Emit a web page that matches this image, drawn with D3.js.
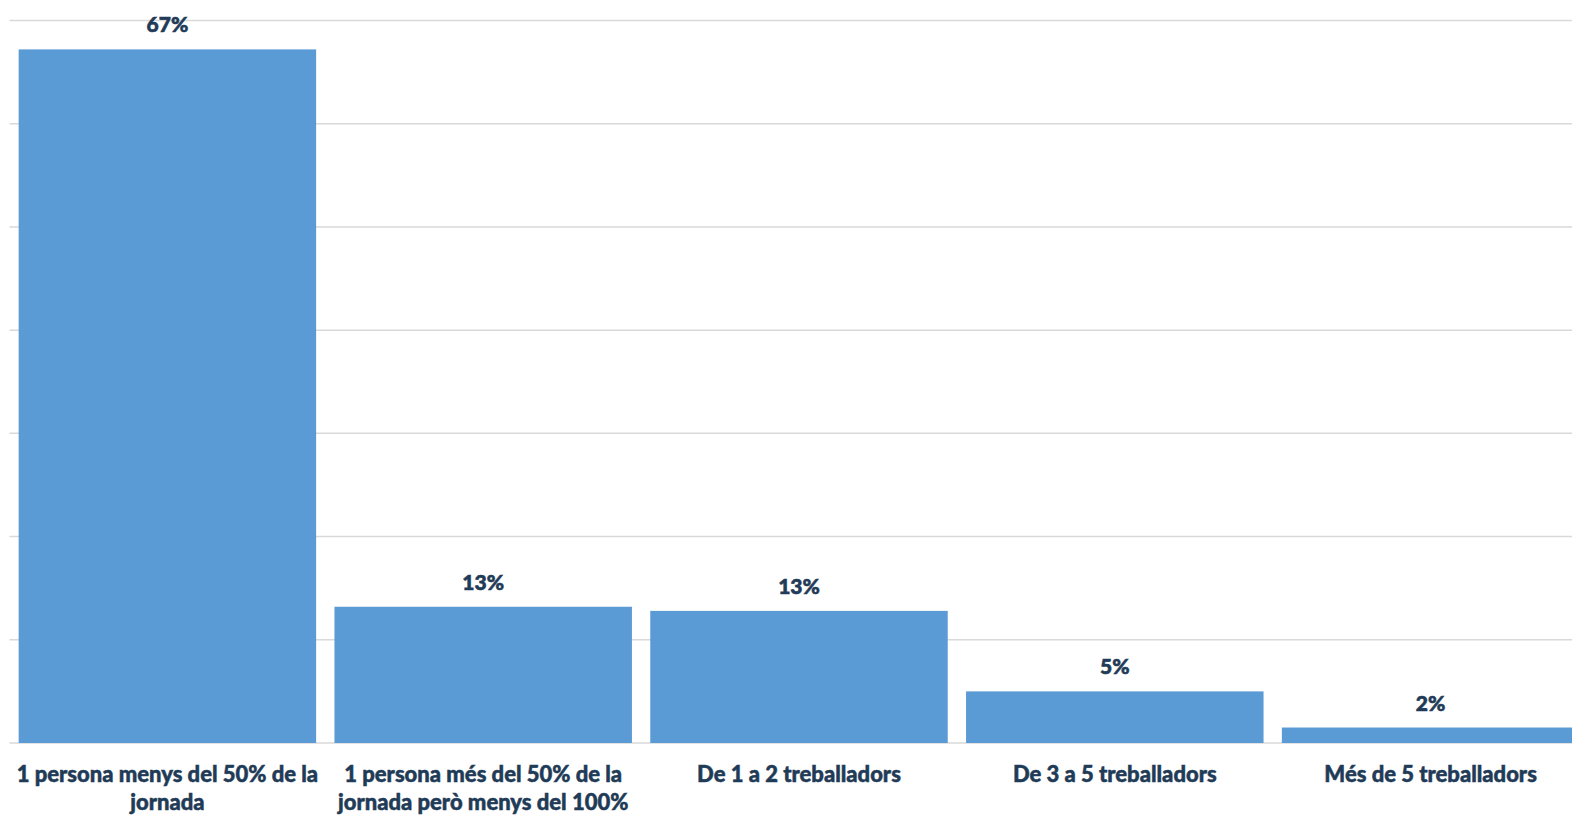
<!DOCTYPE html>
<html>
<head>
<meta charset="utf-8">
<script src="https://cdn.jsdelivr.net/npm/d3@7"></script>
<style>
  html, body { margin: 0; padding: 0; background: #fff; overflow: hidden; }
  svg { display: block; }
</style>
</head>
<body>
<svg id="chart" width="1572" height="815"></svg>
<script>
const categories = [
  "1 persona menys del 50% de la\njornada",
  "1 persona més del 50% de la\njornada però menys del 100%",
  "De 1 a 2 treballadors",
  "De 3 a 5 treballadors",
  "Més de 5 treballadors"
];
const values = [67.2, 13.2, 12.8, 5.0, 1.5];
const valueLabels = ["67%", "13%", "13%", "5%", "2%"];
const gridTicks = [0, 10, 20, 30, 40, 50, 60, 70];

const svg = d3.select("#chart");
const x0 = 9.5, stepW = 315.8;
const x = d3.scaleBand()
  .domain(d3.range(categories.length))
  .range([x0, x0 + stepW * categories.length])
  .paddingInner(0.058)
  .paddingOuter(0.029);
const y = d3.scaleLinear().domain([0, 70]).range([743, 20.5]);

const textColor = "#1f3b57";
const font = "Lato, 'Open Sans', sans-serif";

// gridlines
svg.append("g").selectAll("line").data(gridTicks).join("line")
  .attr("x1", x0).attr("x2", 1572)
  .attr("y1", d => y(d)).attr("y2", d => y(d))
  .attr("stroke", "#d9d9d9").attr("stroke-width", 1.5);

// bars
svg.append("g").selectAll("rect").data(values).join("rect")
  .attr("x", (d, i) => x(i))
  .attr("width", x.bandwidth())
  .attr("y", d => y(d))
  .attr("height", d => y(0) - y(d))
  .attr("fill", "#5b9bd5");

// value labels
svg.append("g").selectAll("text").data(values).join("text")
  .attr("x", (d, i) => x(i) + x.bandwidth() / 2)
  .attr("y", d => y(d) - 17)
  .attr("text-anchor", "middle")
  .attr("font-family", font).attr("font-weight", 900)
  .attr("font-size", 21).attr("fill", textColor)
  .attr("stroke", textColor).attr("stroke-width", 0.6)
  .text((d, i) => valueLabels[i]);

// category labels
const cat = svg.append("g").selectAll("text").data(categories).join("text")
  .attr("x", (d, i) => x(i) + x.bandwidth() / 2)
  .attr("y", y(0) + 39)
  .attr("text-anchor", "middle")
  .attr("font-family", font).attr("font-weight", 900)
  .attr("font-size", 22).attr("fill", textColor)
  .attr("stroke", textColor).attr("stroke-width", 0.5);
cat.each(function(d, i) {
  const lines = d.split("\n");
  d3.select(this).selectAll("tspan").data(lines).join("tspan")
    .attr("x", x(i) + x.bandwidth() / 2)
    .attr("dy", (l, j) => j === 0 ? 0 : 28)
    .text(l => l);
});
</script>
</body>
</html>
